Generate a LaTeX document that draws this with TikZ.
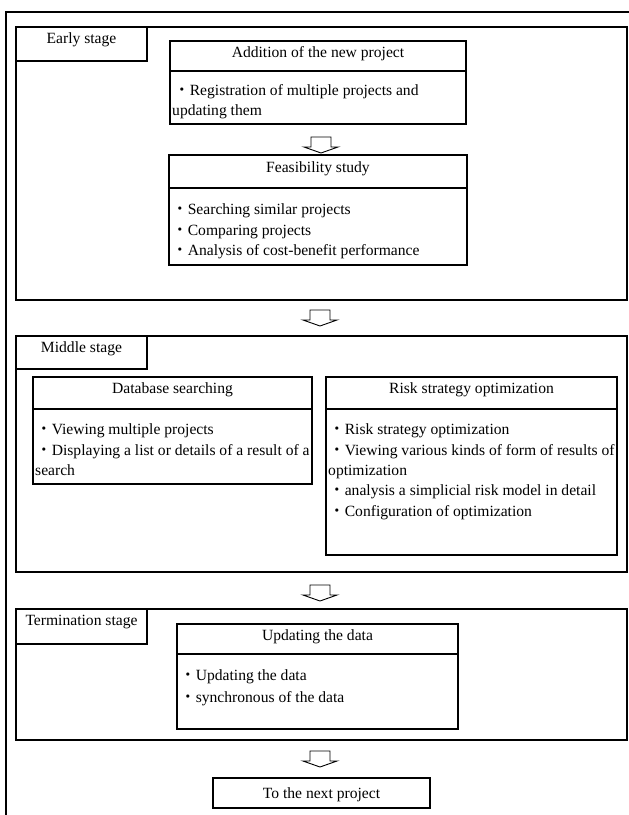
\documentclass[tikz,border=0pt]{standalone}
\usepackage{fontspec}
\setmainfont{Liberation Serif}
\newfontfamily\jpfont{Noto Sans CJK JP}
\newcommand\mytxt{\fontsize{15.6pt}{20.5pt}\selectfont}
\newcommand\bul{{\jpfont ・}}
\begin{document}
\begin{tikzpicture}[x=1pt,y=-1pt,
  box/.style={draw=black,line width=1.1pt,inner sep=0pt,outer sep=0pt,anchor=north west},
  stagebox/.style={draw=black,line width=1.2pt,inner sep=0pt,outer sep=0pt,anchor=north west},
  txt/.style={font=\mytxt,inner sep=0pt},
  hdr/.style={txt,anchor=base},
  line/.style={txt,anchor=base west},
  divider/.style={line width=1.1pt},
  blockarrow/.style={draw=black,line width=0.9pt,fill=white,line join=miter}
]
\useasboundingbox (0,0) rectangle (629,815);
% outer frame (extends beyond the picture)
\draw[line width=1.6pt] (6,830) -- (6,12) -- (640,12);

% ---------- Early stage ----------
\node[stagebox,minimum width=611pt,minimum height=273pt] (early) at (16,27) {};
\node[stagebox,minimum width=131pt,minimum height=34pt] (earlylab) at (16,27) {};
\node[hdr] (earlyt) at (81.5,43) {Early stage};

\node[box,minimum width=296pt,minimum height=83pt] (add) at (170,41) {};
\draw[divider] (170,71) -- (466,71);
\node[hdr] (addh) at (318,57) {Addition of the new project};
\node[line] (add1) at (174,95) {\bul Registration of multiple projects and};
\node[line] (add2) at (172,115) {updating them};

\node[box,minimum width=298pt,minimum height=110pt] (feas) at (169,155) {};
\draw[divider] (169,188) -- (467,188);
\node[hdr] (feash) at (318,172) {Feasibility study};
\node[line] (feas1) at (172,214) {\bul Searching similar projects};
\node[line] (feas2) at (172,235) {\bul Comparing projects};
\node[line] (feas3) at (172,255) {\bul Analysis of cost-benefit performance};

% ---------- Middle stage ----------
\node[stagebox,minimum width=611pt,minimum height=236pt] (middle) at (16,336) {};
\node[stagebox,minimum width=131pt,minimum height=33pt] (middlelab) at (16,336) {};
\node[hdr] (middlet) at (81.5,352) {Middle stage};

\node[box,minimum width=279pt,minimum height=107pt] (db) at (33,377) {};
\draw[divider] (33,409) -- (312,409);
\node[hdr] (dbh) at (172.5,393) {Database searching};
\node[line] (db1) at (36,434) {\bul Viewing multiple projects};
\node[line] (db2) at (36,455) {\bul Displaying a list or details of a result of a};
\node[line] (db3) at (35,475) {search};

\node[box,minimum width=291pt,minimum height=178pt] (risk) at (326,377) {};
\draw[divider] (326,409) -- (617,409);
\node[hdr] (riskh) at (471.5,393) {Risk strategy optimization};
\node[line] (risk1) at (329,434) {\bul Risk strategy optimization};
\node[line] (risk2) at (329,455) {\bul Viewing various kinds of form of results of};
\node[line] (risk3) at (328,475) {optimization};
\node[line] (risk4) at (329,495) {\bul analysis a simplicial risk model in detail};
\node[line] (risk5) at (329,516) {\bul Configuration of optimization};

% ---------- Termination stage ----------
\node[stagebox,minimum width=611pt,minimum height=131pt] (term) at (16,609) {};
\node[stagebox,minimum width=131pt,minimum height=35pt] (termlab) at (16,609) {};
\node[hdr] (termt) at (81.5,625) {Termination stage};

\node[box,minimum width=281pt,minimum height=105pt] (upd) at (177,624) {};
\draw[divider] (177,654) -- (458,654);
\node[hdr] (updh) at (317.5,640) {Updating the data};
\node[line] (upd1) at (180,680) {\bul Updating the data};
\node[line] (upd2) at (180,702) {\bul synchronous of the data};

% ---------- Next ----------
\node[box,minimum width=217pt,minimum height=30pt] (next) at (213,778) {};
\node[hdr] (nextt) at (321.5,798) {To the next project};

% ---------- block arrows ----------
\foreach \cx/\ty in {321/137, 320/310, 320/585, 320/751}{
  \draw[blockarrow] (\cx-17,\ty+10) -- (\cx-10,\ty+10) -- (\cx-10,\ty) -- (\cx+10,\ty)
     -- (\cx+10,\ty+10) -- (\cx+17,\ty+10) -- (\cx,\ty+16) -- cycle;
}
\end{tikzpicture}
\end{document}
